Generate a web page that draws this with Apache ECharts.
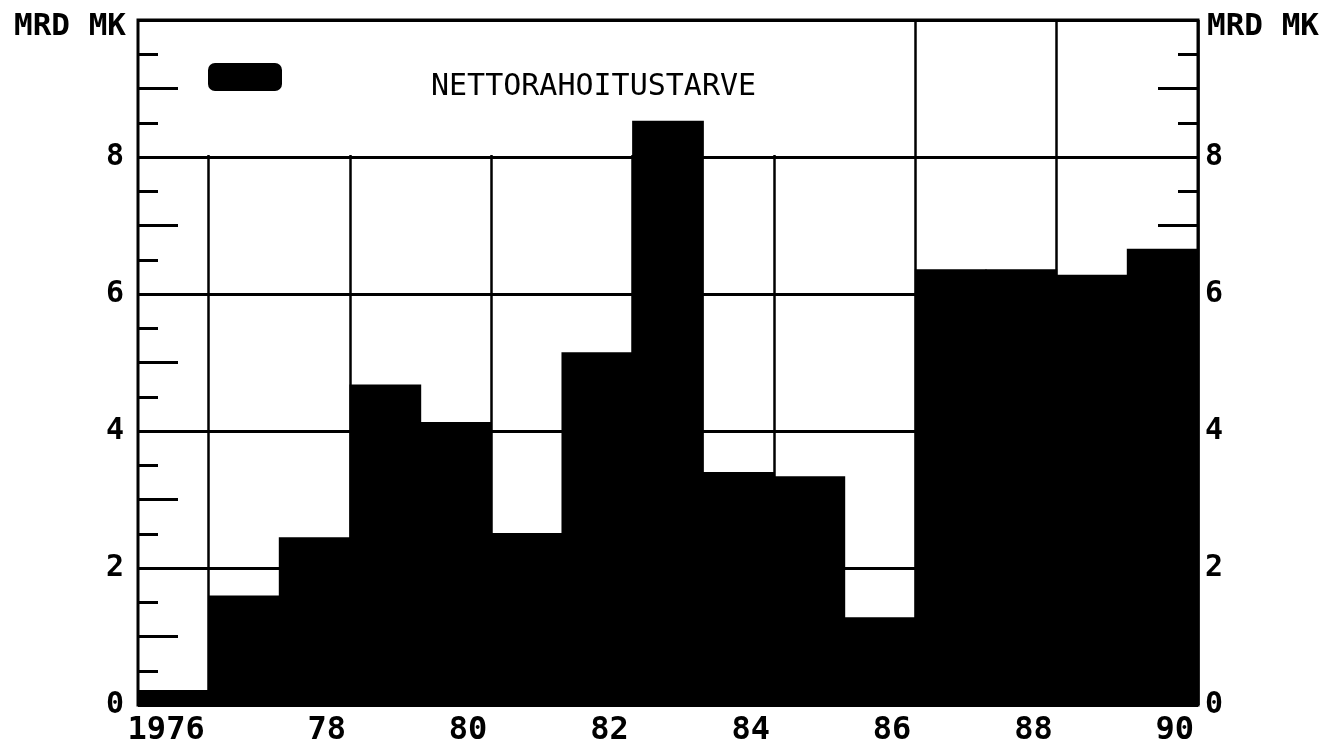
<!DOCTYPE html>
<html>
<head>
<meta charset="utf-8">
<script src="https://cdn.jsdelivr.net/npm/echarts@6/dist/echarts.min.js"></script>
<style>
  html, body { margin: 0; padding: 0; background: #fff; }
  #chart { width: 1338px; height: 750px; }
</style>
</head>
<body>
<div id="chart"></div>
<script>
// data (MRD MK)
const years = ['1976', '1977', '1978', '1979', '1980', '1981', '1982', '1983',
               '1984', '1985', '1986', '1987', '1988', '1989', '1990']
const nettorahoitustarve = [0.22, 1.6, 2.45, 4.68, 4.13, 2.51, 5.15, 8.53,
                            3.4, 3.34, 1.28, 6.36, 6.36, 6.28, 6.66]
const yTickLabels = [0, 2, 4, 6, 8]
const unitName = 'MRD MK'
const seriesName = 'NETTORAHOITUSTARVE'

const font = 'DejaVu Sans Mono'

function yLabel(v) {
    return yTickLabels.indexOf(v) >= 0 ? String(v) : ''
}

// year labels sit right-aligned at the end of every other bar
function yearLabel(v) {
    const y = Math.round(v - 0.5)
    if (y % 2 !== 0) return ''
    return y === 1976 ? '1976' : String(y).slice(2)
}

function tickAxis(position) {
    return {
        type: 'value', position: position, min: 0, max: 10, interval: 1,
        axisLine: { show: false },
        axisLabel: { show: false },
        splitLine: { show: false },
        axisTick: { show: true, inside: true, length: 40, lineStyle: { color: '#000', width: 3 } }
    }
}

function labelAxis(position, margin, showSplit) {
    return {
        type: 'value', position: position, min: 0, max: 10, interval: 2,
        name: unitName,
        nameLocation: 'end',
        nameGap: -7,
        nameTextStyle: {
            fontFamily: font, fontSize: 31, fontWeight: 'bold', color: '#000',
            align: position === 'left' ? 'right' : 'left',
            verticalAlign: 'middle',
            padding: position === 'left' ? [0, 12, 0, 0] : [0, 0, 0, 9]
        },
        axisLine: { show: false },
        axisTick: { show: false, inside: true },
        minorTick: { show: true, splitNumber: 4, length: 20, lineStyle: { color: '#000', width: 3 } },
        axisLabel: {
            formatter: yLabel, fontFamily: font, fontSize: 30, fontWeight: 'bold',
            color: '#000', margin: margin
        },
        splitLine: { show: showSplit, lineStyle: { color: '#000', width: 3 } }
    }
}

const chart = echarts.init(document.getElementById('chart'))
chart.setOption({
    animation: false,
    backgroundColor: '#fff',
    grid: {
        left: 138, right: 140, top: 20, bottom: 45,
        show: true, borderColor: '#000', borderWidth: 3
    },
    legend: {
        left: 203, top: 58,
        itemWidth: 74, itemHeight: 28,
        icon: 'roundRect',
        data: [seriesName],
        formatter: function (name) { return '{t|' + name + '}' },
        textStyle: {
            fontFamily: font, fontSize: 30, color: '#000',
            rich: {
                t: { fontFamily: font, fontSize: 30, color: '#000', padding: [20, 0, 0, 144] }
            }
        }
    },
    graphic: [{
        // the legend panel blanks the vertical grid lines above 8
        type: 'rect', z: 1, silent: true,
        shape: { x: 185, y: 22, width: 720, height: 133 },
        style: { fill: '#fff' }
    }],
    xAxis: [
        {
            type: 'category', data: years, position: 'bottom', boundaryGap: true,
            axisLine: { show: false },
            axisTick: { show: false },
            axisLabel: { show: false },
            splitLine: {
                show: true,
                interval: function (index) { return index % 2 === 1 },
                lineStyle: { color: '#000', width: 2.5 }
            }
        },
        {
            type: 'value', position: 'bottom', min: 1975.5, max: 1990.5, interval: 1,
            axisLine: { show: false },
            axisTick: { show: false },
            splitLine: { show: false },
            axisLabel: {
                formatter: yearLabel, align: 'right', margin: 10, padding: [0, 4, 0, 0],
                fontFamily: font, fontSize: 32, fontWeight: 'bold', color: '#000'
            }
        }
    ],
    yAxis: [
        labelAxis('left', 14, true),
        tickAxis('left'),
        labelAxis('right', 7, false),
        tickAxis('right')
    ],
    series: [{
        name: seriesName,
        type: 'bar',
        xAxisIndex: 0,
        yAxisIndex: 0,
        barWidth: '101.5%',
        itemStyle: { color: '#000' },
        data: nettorahoitustarve
    }]
})
</script>
</body>
</html>
